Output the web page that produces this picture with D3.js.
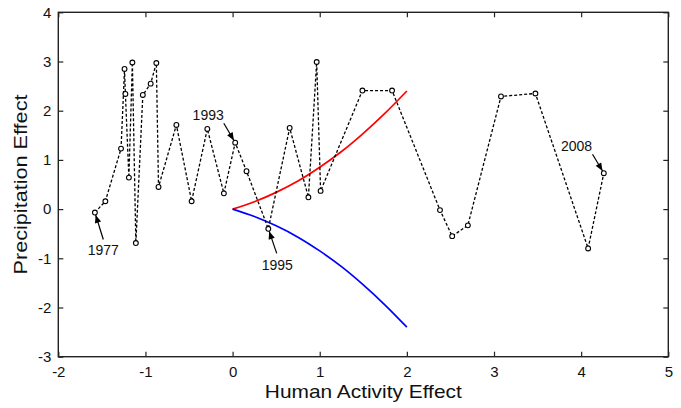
<!DOCTYPE html>
<html><head><meta charset="utf-8">
<script src="https://cdn.jsdelivr.net/npm/d3@7"></script>
<style>
html,body{margin:0;padding:0;background:#fff;}
svg text{font-family:Arial,"Liberation Sans",sans-serif;}
</style></head>
<body><svg id="c" width="681" height="408"></svg>
<script>
// Data
const years = [1977,1978,1979,1980,1981,1982,1983,1984,1985,1986,1987,1988,1989,1990,1991,1992,1993,1994,1995,1996,1997,1998,1999,2000,2001,2002,2003,2004,2005,2006,2007,2008];
const humanEffect = [-1.58,-1.46,-1.28,-1.24,-1.23,-1.19,-1.15,-1.11,-1.03,-0.94,-0.875,-0.85,-0.645,-0.47,-0.29,-0.10,0.03,0.16,0.41,0.655,0.87,0.965,1.01,1.49,1.83,2.38,2.52,2.70,3.08,3.475,4.08,4.26];
const precipEffect = [-0.07,0.16,1.23,2.85,2.34,0.64,2.98,-0.69,2.32,2.55,2.97,0.45,1.71,0.16,1.63,0.32,1.35,0.77,-0.40,1.65,0.24,2.99,0.37,2.41,2.41,-0.02,-0.55,-0.33,2.29,2.35,-0.80,0.73];
const curveX = [0,0.25,0.5,0.75,1,1.25,1.5,1.75,2];
const redY = [0,0.15,0.34,0.57,0.85,1.17,1.54,1.95,2.4];
const blueY = [0,-0.15,-0.34,-0.57,-0.85,-1.17,-1.54,-1.95,-2.4];
const xTicks = [-2,-1,0,1,2,3,4,5];
const yTicks = [-3,-2,-1,0,1,2,3,4];
const labelYears = [1977,1993,1995,2008];

// annotation layout (pixel offsets from the annotated point): text, arrow tail
const annLayout = {
  1977:{tx:8.4, ty:42, ax:8.4, ay:27},
  1993:{tx:-27, ty:-22.7, ax:-11.4, ay:-19.4},
  1995:{tx:9, ty:41.3, ax:8.4, ay:24.6},
  2008:{tx:-27.3, ty:-22.3, ax:-11.3, ay:-19}
};

const svg = d3.select("#c");
const L=58.3, R=668.3, T=12.3, B=356.7;
const x = d3.scaleLinear().domain([-2,5]).range([L,R]);
const y = d3.scaleLinear().domain([-3,4]).range([B,T]);

const tickLen = 5;
const fmt = d => String(d);
const styleAxis = g=>{g.select(".domain").remove();g.selectAll("text").attr("font-size",15).attr("fill","#111");g.selectAll("line").attr("stroke","#222").attr("stroke-width",1.2);};
svg.append("g").attr("transform",`translate(0,${B})`)
  .call(d3.axisBottom(x).tickValues(xTicks).tickSizeInner(-tickLen).tickSizeOuter(0).tickPadding(10).tickFormat(fmt))
  .call(styleAxis);
svg.append("g").attr("transform",`translate(0,${T})`)
  .call(d3.axisTop(x).tickValues(xTicks).tickSizeInner(-tickLen).tickSizeOuter(0).tickFormat(""))
  .call(styleAxis);
svg.append("g").attr("transform",`translate(${L},0)`)
  .call(d3.axisLeft(y).tickValues(yTicks).tickSizeInner(-tickLen).tickSizeOuter(0).tickPadding(7).tickFormat(fmt))
  .call(styleAxis);
svg.append("g").attr("transform",`translate(${R},0)`)
  .call(d3.axisRight(y).tickValues(yTicks).tickSizeInner(-tickLen).tickSizeOuter(0).tickFormat(""))
  .call(styleAxis);
svg.append("rect").attr("x",L).attr("y",T).attr("width",R-L).attr("height",B-T)
  .attr("fill","none").attr("stroke","#222").attr("stroke-width",1.4);

// titles
svg.append("text").attr("x",(L+R)/2).attr("y",398.3).attr("text-anchor","middle")
  .attr("font-size",18.5).attr("fill","#111")
  .attr("textLength",197).attr("lengthAdjust","spacingAndGlyphs").text("Human Activity Effect");
svg.append("text").attr("transform",`translate(27,${(T+B)/2}) rotate(-90)`).attr("text-anchor","middle")
  .attr("font-size",18.5).attr("fill","#111")
  .attr("textLength",180).attr("lengthAdjust","spacingAndGlyphs").text("Precipitation Effect");

// curves
const cdata = (ys)=>curveX.map((d,i)=>[d,ys[i]]);
const line = d3.line().x(d=>x(d[0])).y(d=>y(d[1])).curve(d3.curveCatmullRom);
svg.append("path").attr("d",line(cdata(redY))).attr("fill","none").attr("stroke","#ff0000").attr("stroke-width",1.7);
svg.append("path").attr("d",line(cdata(blueY))).attr("fill","none").attr("stroke","#0000ff").attr("stroke-width",1.7);

// data series
const pts = years.map((yr,i)=>({yr, h:humanEffect[i], p:precipEffect[i]}));
const l2 = d3.line().x(d=>x(d.h)).y(d=>y(d.p));
svg.append("path").attr("d",l2(pts)).attr("fill","none").attr("stroke","#000")
  .attr("stroke-width",1.3).attr("stroke-dasharray","3,2");
svg.selectAll("circle.pt").data(pts).join("circle").attr("class","pt")
  .attr("cx",d=>x(d.h)).attr("cy",d=>y(d.p)).attr("r",2.4)
  .attr("fill","#fff").attr("stroke","#000").attr("stroke-width",1.1);

// annotations
svg.append("defs").append("marker").attr("id","ah").attr("viewBox","0 0 10 10")
  .attr("refX",10).attr("refY",5).attr("markerWidth",9).attr("markerHeight",8)
  .attr("markerUnits","userSpaceOnUse").attr("orient","auto")
  .append("path").attr("d","M0,1 L10,5 L0,9 Z").attr("fill","#000");
labelYears.forEach(yr=>{
  const d = pts.find(p=>p.yr===yr), a = annLayout[yr];
  const px=x(d.h), py=y(d.p);
  svg.append("text").attr("x",px+a.tx).attr("y",py+a.ty).attr("text-anchor","middle")
    .attr("font-size",14).attr("fill","#111").text(yr);
  const sx=px+a.ax, sy=py+a.ay;
  const ang = Math.atan2(py-sy, px-sx), dist=Math.hypot(px-sx,py-sy);
  const ex = sx+Math.cos(ang)*(dist-2.5), ey = sy+Math.sin(ang)*(dist-2.5);
  svg.append("line").attr("x1",sx).attr("y1",sy).attr("x2",ex).attr("y2",ey)
    .attr("stroke","#000").attr("stroke-width",1.2).attr("marker-end","url(#ah)");
});
</script></body></html>
